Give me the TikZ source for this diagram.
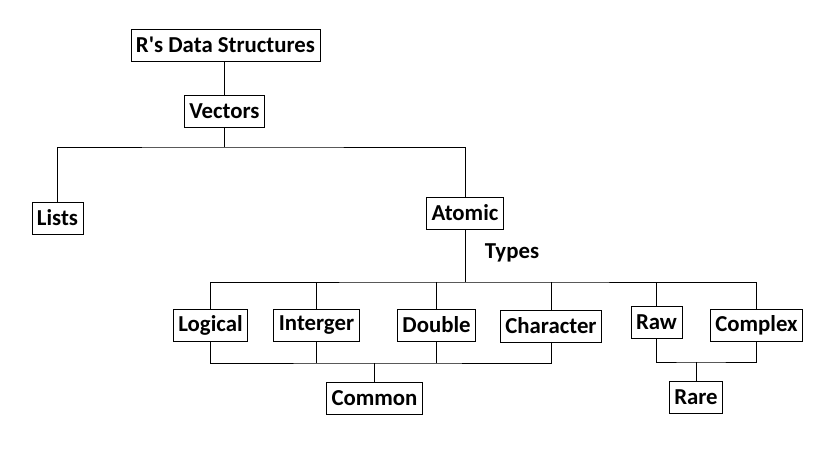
\documentclass[tikz,border=0pt]{standalone}
\usepackage{fontspec}
\setmainfont{Carlito}
\usetikzlibrary{positioning}

\begin{document}
\begin{tikzpicture}[x=1pt,y=-1pt,line width=0.9pt,
	font=\fontsize{22.8}{26}\selectfont\bfseries,
	box/.style={draw,rectangle,inner xsep=5pt,inner ysep=0pt,minimum height=32pt}]
	\useasboundingbox (0,0) rectangle (825,451);
	\node[box] (rds) at (225.5,45) {R\textquotesingle s Data Structures};
	\node[box] (vec) at (224.5,111.5) {Vectors};
	\node[box] (lists) at (57.5,218) {Lists};
	\node[box] (atomic) at (465,213) {Atomic};
	\node (types) at (512,253) {Types};
	\node[box] (logical) at (210.5,325) {Logical};
	\node[box] (inter) at (316.5,325) {Interger};
	\node[box] (double) at (436.5,325) {Double};
	\node[box] (character) at (551,326) {Character};
	\node[box] (raw) at (656.5,322) {Raw};
	\node[box] (cplx) at (756.5,325.5) {Complex};
	\node[box] (common) at (374.5,398) {Common};
	\node[box] (rare) at (696,397) {Rare};
	\coordinate (vj) at (224.5,147);
	\coordinate (aj) at (465,282);
	\coordinate (cj) at (374.5,363);
	\coordinate (rj) at (696,362);
	\draw (vec.north) -- (vec.north |- rds.south);
	\draw (vec) -- (vj);
	\draw (lists.north) |- (vj) -| (atomic.north);
	\draw (atomic) -- (aj);
	\draw (logical.north) |- (aj) -| (cplx.north);
	\draw (inter.north) -- (inter.north |- aj);
	\draw (double.north) -- (double.north |- aj);
	\draw (character.north) -- (character.north |- aj);
	\draw (raw.north) -- (raw.north |- aj);
	\draw (logical.south) |- (cj) -| (character.south);
	\draw (inter.south) -- (inter.south |- cj);
	\draw (double.south) -- (double.south |- cj);
	\draw (cj) -- (common);
	\draw (raw.south) |- (rj) -| (cplx.south);
	\draw (rj) -- (rare);
\end{tikzpicture}
\end{document}
